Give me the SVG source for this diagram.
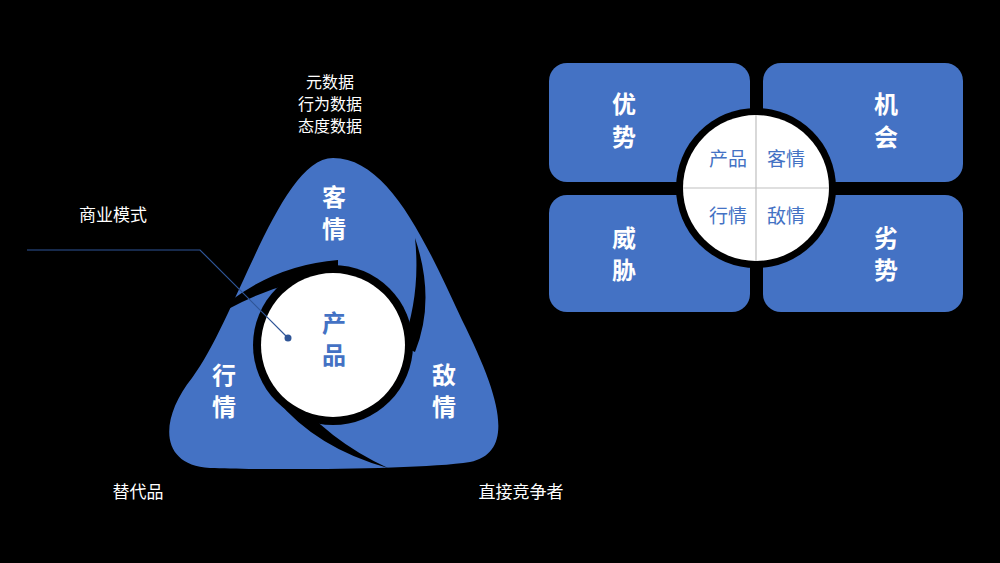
<svg xmlns="http://www.w3.org/2000/svg" width="1000" height="563" viewBox="0 0 1000 563">
<style>
.w{font-family:"Noto Sans CJK SC",sans-serif;fill:#fff;font-size:17px;text-anchor:middle}
.s{font-size:16px}
.b{font-family:"Noto Sans CJK SC",sans-serif;fill:#fff;font-size:24px;font-weight:bold;text-anchor:middle}
.c{font-family:"Noto Sans CJK SC",sans-serif;fill:#4472c4;font-size:19px;text-anchor:middle}
.box{fill:#4472c4}
</style>
<rect width="1000" height="563" fill="#000"/>
<g id="triangle">
<path class="box" d="M333,158 C388,158 425,240 462,320 C502,400 515,452 470,462 C420,470 260,470 210,468 C158,465 160,418 192,378 C238,316 280,158 333,158 Z"/>
<path fill="#000" d="M415,238 Q436,300 415,352 L402,346 Q421,295 415,238 Z"/>
<path fill="#000" d="M205,323 Q262,266 338,260 L338,274 Q266,283 205,323 Z"/>
<path fill="#000" d="M388,468 Q316,448 276,399 L288,390 Q327,440 388,468 Z"/>
<circle cx="333" cy="345" r="80" fill="#000"/>
<circle cx="333" cy="345" r="72" fill="#fff"/>
<text class="b" x="334" y="206">客</text><text class="b" x="334" y="238">情</text>
<text class="b" x="224" y="384">行</text><text class="b" x="224" y="416">情</text>
<text class="b" x="444" y="384">敌</text><text class="b" x="444" y="416">情</text>
<text class="b" x="334" y="332" style="fill:#4472c4">产</text><text class="b" x="334" y="364" style="fill:#4472c4">品</text>
</g>
<g id="labels">
<text class="w s" x="330" y="88">元数据</text>
<text class="w s" x="330" y="110">行为数据</text>
<text class="w s" x="330" y="132">态度数据</text>
<text class="w" x="113" y="221">商业模式</text>
<text class="w" x="138" y="498">替代品</text>
<text class="w" x="521" y="498">直接竞争者</text>
</g>
<g id="connectors">
<polyline points="27,250 200,250 288,338" fill="none" stroke="#2f5597" stroke-width="1.2"/>
<circle cx="288" cy="338" r="3.5" fill="#2f5597"/>
</g>
<g id="swot">
<rect class="box" x="549" y="63" width="201" height="119" rx="18"/>
<rect class="box" x="763" y="63" width="200" height="119" rx="18"/>
<rect class="box" x="549" y="195" width="201" height="117" rx="18"/>
<rect class="box" x="763" y="195" width="200" height="117" rx="18"/>
<circle cx="756" cy="188" r="80" fill="#000"/>
<circle cx="756" cy="188" r="73" fill="#fff"/>
<line x1="683" y1="188" x2="829" y2="188" stroke="#bfbfbf" stroke-width="1.2"/>
<line x1="756" y1="115" x2="756" y2="261" stroke="#bfbfbf" stroke-width="1.2"/>
<text class="c" x="728" y="166">产品</text><text class="c" x="786" y="166">客情</text>
<text class="c" x="728" y="223">行情</text><text class="c" x="786" y="223">敌情</text>
<text class="b" x="624" y="113">优</text><text class="b" x="624" y="146">势</text>
<text class="b" x="886" y="113">机</text><text class="b" x="886" y="146">会</text>
<text class="b" x="624" y="247">威</text><text class="b" x="624" y="279">胁</text>
<text class="b" x="886" y="247">劣</text><text class="b" x="886" y="279">势</text>
</g>
</svg>
